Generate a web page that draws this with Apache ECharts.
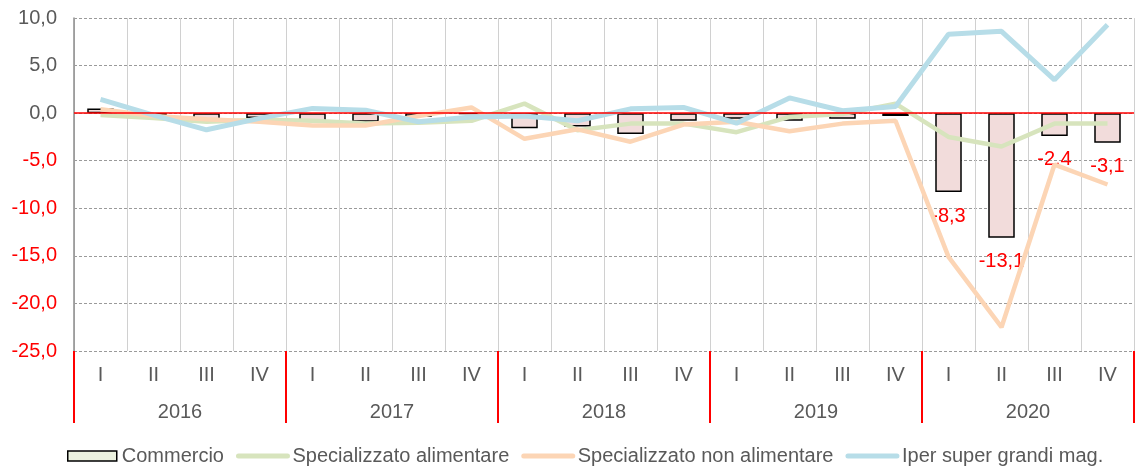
<!DOCTYPE html>
<html>
<head>
<meta charset="utf-8">
<script src="https://cdn.jsdelivr.net/npm/echarts@6/dist/echarts.min.js"></script>
<style>
  html, body { margin: 0; padding: 0; background: #fff; }
  #chart { width: 1135px; height: 472px; }
</style>
</head>
<body>
<div id="chart"></div>
<script>
const quarters = ['I', 'II', 'III', 'IV', 'I', 'II', 'III', 'IV', 'I', 'II', 'III', 'IV',
  'I', 'II', 'III', 'IV', 'I', 'II', 'III', 'IV'];
const years = ['2016', '2017', '2018', '2019', '2020'];

const commercio = [0.5, -0.2, -1.0, -0.5, -0.9, -0.9, -0.4, -0.1, -1.6, -1.4, -2.2, -0.8,
  -0.6, -0.8, -0.6, -0.3, -8.3, -13.1, -2.4, -3.1];
const specAlimentare = [-0.2, -0.5, -0.9, -0.7, -0.8, -1.1, -1.0, -0.8, 1.0, -1.8, -1.1, -1.1,
  -2.0, -0.4, -0.1, 1.0, -2.5, -3.5, -1.1, -1.1];
const specNonAlimentare = [0.4, -0.3, -0.65, -0.9, -1.3, -1.3, -0.3, 0.6, -2.7, -1.7, -3.0, -1.2,
  -0.9, -1.9, -1.1, -0.8, -15.1, -22.5, -5.4, -7.5];
const iperSuper = [1.45, -0.2, -1.75, -0.55, 0.5, 0.3, -0.9, -0.4, -0.3, -0.8, 0.45, 0.6,
  -1.05, 1.6, 0.25, 0.7, 8.3, 8.6, 3.5, 9.3];

// only the 2020 bars carry a value label
const labelledFrom = 16;

const fmt = v => v.toFixed(1).replace('.', ',');
const grey = '#595959';
const font = 'Liberation Sans, Arial, sans-serif';

// legend entry for a line series: thick line, no marker
const lineLegend = (name, color) => ({
  name: name,
  itemStyle: { opacity: 0 },
  lineStyle: { color: color, width: 5, cap: 'round' }
});

const chart = echarts.init(document.getElementById('chart'));

chart.setOption({
  animation: false,
  textStyle: { fontFamily: font },
  grid: { left: 74, right: 1, top: 18, bottom: 121 },
  legend: {
    left: 67,
    top: 446,
    padding: 0,
    itemWidth: 49,
    itemHeight: 10,
    itemGap: 12,
    textStyle: { fontSize: 20, color: grey, fontFamily: font },
    data: [
      { name: 'Commercio', icon: 'rect',
        itemStyle: { color: '#ebf1de', borderColor: '#000', borderWidth: 1.5 } },
      lineLegend('Specializzato alimentare', '#d7e4bd'),
      lineLegend('Specializzato non alimentare', '#fcd5b5'),
      lineLegend('Iper super grandi mag.', '#b7dde8')
    ]
  },
  xAxis: [
    {
      type: 'category',
      data: quarters,
      position: 'bottom',
      axisLine: { show: false },
      axisTick: { show: false },
      axisLabel: { fontSize: 20, color: grey, margin: 14, interval: 0 },
      splitLine: { show: true, lineStyle: { color: '#d0d0d0', width: 1 } }
    },
    {
      type: 'category',
      data: years,
      position: 'bottom',
      axisLine: { show: false },
      axisTick: { show: true, length: 72, lineStyle: { color: '#ff0000', width: 2 } },
      axisLabel: { fontSize: 20, color: grey, margin: 51 },
      splitLine: { show: false }
    }
  ],
  yAxis: {
    type: 'value',
    min: -25,
    max: 10,
    interval: 5,
    axisLine: { show: true, lineStyle: { color: '#8c8c8c', width: 1.5 } },
    axisTick: { show: false },
    axisLabel: {
      margin: 17,
      formatter: v => (v < 0 ? '{n|' : '{p|') + fmt(v) + '}',
      rich: {
        n: { color: '#ff0000', fontSize: 20, fontFamily: font },
        p: { color: grey, fontSize: 20, fontFamily: font }
      }
    },
    splitLine: { lineStyle: { color: '#9a9a9a', type: [3, 2], width: 1 } }
  },
  series: [
    {
      name: 'Commercio',
      type: 'bar',
      xAxisIndex: 0,
      barWidth: '50%',
      itemStyle: { color: '#f2dcdb', borderColor: '#000', borderWidth: 1.5 },
      data: commercio.map((v, i) => ({
        value: v,
        label: {
          show: i >= labelledFrom,
          position: 'bottom',
          distance: 14,
          color: '#ff0000',
          fontSize: 20,
          formatter: p => fmt(p.value)
        }
      })),
      markLine: {
        silent: true,
        symbol: 'none',
        label: { show: false },
        lineStyle: { color: '#ff0000', width: 1.5, type: 'solid' },
        data: [{ yAxis: 0 }]
      }
    },
    {
      name: 'Specializzato alimentare',
      type: 'line',
      symbol: 'none',
      lineStyle: { color: '#d7e4bd', width: 4.5 },
      itemStyle: { color: '#d7e4bd' },
      data: specAlimentare
    },
    {
      name: 'Specializzato non alimentare',
      type: 'line',
      symbol: 'none',
      lineStyle: { color: '#fcd5b5', width: 4.5 },
      itemStyle: { color: '#fcd5b5' },
      data: specNonAlimentare
    },
    {
      name: 'Iper super grandi mag.',
      type: 'line',
      symbol: 'none',
      lineStyle: { color: '#b7dde8', width: 5 },
      itemStyle: { color: '#b7dde8' },
      data: iperSuper
    }
  ]
});
</script>
</body>
</html>
